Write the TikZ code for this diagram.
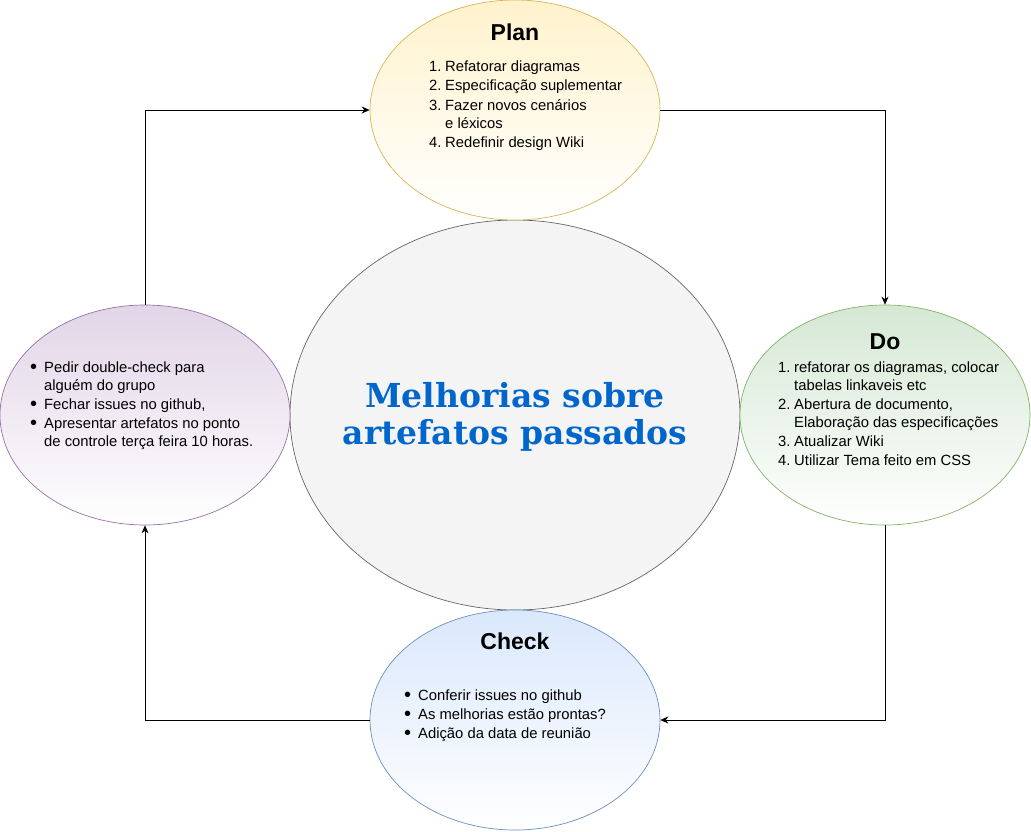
\documentclass[tikz,border=0pt]{standalone}
\usepackage{fontspec}
\setmainfont{Liberation Sans}
\newfontfamily\hubserif{DejaVu Serif}
\usetikzlibrary{positioning, shapes.geometric, arrows.meta}

\definecolor{planfill}{HTML}{FFF2CC}
\definecolor{plandraw}{HTML}{D6B656}
\definecolor{dofill}{HTML}{D5E8D4}
\definecolor{dodraw}{HTML}{82B366}
\definecolor{chkfill}{HTML}{DAE8FC}
\definecolor{chkdraw}{HTML}{6C8EBF}
\definecolor{actfill}{HTML}{E1D5E7}
\definecolor{actdraw}{HTML}{9673A6}
\definecolor{hubfill}{HTML}{F4F4F4}
\definecolor{hubdraw}{HTML}{666666}
\definecolor{hubtext}{HTML}{0066CC}

% list markers
\newcommand{\numit}[1]{\makebox[16pt][l]{#1.}}
\newcommand{\bulit}{\makebox[14pt][l]{\raisebox{-0.4pt}{\scalebox{1.35}{\textbullet}}}}
\newcommand{\contit}{\hspace*{16pt}}
\newcommand{\contbul}{\hspace*{14pt}}

\tikzset{
  % Set arrowhead
  >={Stealth[length=8pt,width=7pt]},
  % Phase ellipse
  phase/.style={draw, shape=ellipse, minimum width=290pt, minimum height=220pt,
    inner sep=0pt, line width=0.7pt, bottom color=white},
  % Central ellipse
  hub/.style={draw=hubdraw, fill=hubfill, shape=ellipse, minimum width=450pt,
    minimum height=390pt, inner sep=0pt, line width=0.7pt},
  % Phase title
  ptitle/.style={font=\fontsize{23}{27}\selectfont\bfseries, inner sep=0pt, anchor=base},
  % Phase list (placed at the baseline of its last line)
  plist/.style={font=\fontsize{14.8}{18}\selectfont, align=left, inner sep=0pt,
    anchor=base west},
  % Connectors
  flow/.style={->, line width=0.7pt},
}

\begin{document}
\begin{tikzpicture}[x=1pt, y=-1pt]
  \useasboundingbox (0,0) rectangle (1031,831);

  \node[hub] (hub) at (515,415) {};
  \node[phase, draw=plandraw, top color=planfill] (plan) at (515,110) {};
  \node[phase, draw=dodraw, top color=dofill] (do) at (885,415) {};
  \node[phase, draw=chkdraw, top color=chkfill] (chk) at (515,720) {};
  \node[phase, draw=actdraw, top color=actfill] (act) at (145,415) {};

  \node[font=\hubserif\fontsize{33}{37}\selectfont\bfseries, text=hubtext,
    align=center] (hubtxt) at (515,417) {Melhorias sobre\\artefatos passados};

  % Plan
  \node[ptitle] (plantitle) at (515,40.7) {Plan};
  \node[plist] (planlist) at (429,147.7) {\numit{1}Refatorar diagramas\\[1.5pt]
    \numit{2}Especificação suplementar\\[1.5pt]
    \numit{3}Fazer novos cenários\\
    \contit e léxicos\\[1.5pt]
    \numit{4}Redefinir design Wiki};

  % Do
  \node[ptitle] (dotitle) at (885,349) {Do};
  \node[plist] (dolist) at (778,465.7) {\numit{1}refatorar os diagramas, colocar\\
    \contit tabelas linkaveis etc\\[1pt]
    \numit{2}Abertura de documento,\\
    \contit Elaboração das especificações\\[1pt]
    \numit{3}Atualizar Wiki\\[1pt]
    \numit{4}Utilizar Tema feito em CSS};

  % Check
  \node[ptitle] (chktitle) at (515,649) {Check};
  \node[plist] (chklist) at (404,738.7) {\bulit Conferir issues no github\\[1pt]
    \bulit As melhorias estão prontas?\\[1pt]
    \bulit Adição da data de reunião};

  % Act
  \node[plist] (actlist) at (30,446.7) {\bulit Pedir double-check para\\
    \contbul alguém do grupo\\[1pt]
    \bulit Fechar issues no github,\\[1pt]
    \bulit Apresentar artefatos no ponto\\
    \contbul de controle terça feira 10 horas.};

  % cycle
  \draw[flow] (act.north) |- (plan.west);
  \draw[flow] (plan.east) -| (do.north);
  \draw[flow] (do.south) |- (chk.east);
  \draw[flow] (chk.west) -| (act.south);
\end{tikzpicture}
\end{document}
